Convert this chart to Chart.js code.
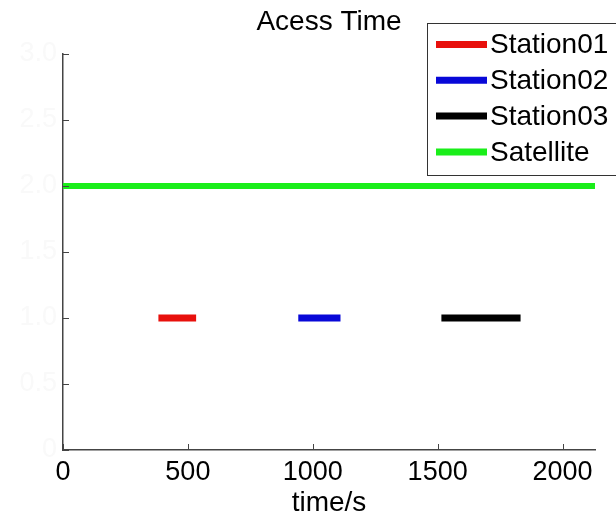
<!DOCTYPE html>
<html>
<head>
<meta charset="utf-8">
<script src="https://cdn.jsdelivr.net/npm/chart.js@4/dist/chart.umd.min.js"></script>
<style>
  html, body { margin: 0; padding: 0; background: #fff; }
  #wrap { width: 616px; height: 515px; }
</style>
</head>
<body>
<div id="wrap"><canvas id="access"></canvas></div>
<script>
const seriesNames = ['Station01', 'Station02', 'Station03', 'Satellite'];
const startTimes = [382, 942, 1515, 0];
const endTimes = [533, 1111, 1832, 2130];
const levels = [1, 1, 1, 2];
const colors = ['#e8100c', '#0808d8', '#000000', '#1aee1a'];
const xTickValues = [0, 500, 1000, 1500, 2000];

const FONT = '"Liberation Sans", Arial, sans-serif';

// MATLAB style ticks point into the plot
const innerTicks = {
  id: 'innerTicks',
  afterDatasetsDraw(chart) {
    const { ctx, chartArea, scales } = chart;
    ctx.save();
    ctx.strokeStyle = '#444';
    ctx.lineWidth = 1;
    scales.x.ticks.forEach(t => {
      const px = Math.round(scales.x.getPixelForValue(t.value)) + 0.5;
      ctx.beginPath();
      ctx.moveTo(px, chartArea.bottom);
      ctx.lineTo(px, chartArea.bottom - 6);
      ctx.stroke();
    });
    scales.y.ticks.forEach(t => {
      const py = Math.round(scales.y.getPixelForValue(t.value)) + 0.5;
      ctx.beginPath();
      ctx.moveTo(chartArea.left, py);
      ctx.lineTo(chartArea.left + 6, py);
      ctx.stroke();
    });
    ctx.restore();
  }
};

const plotTitle = {
  id: 'plotTitle',
  afterDraw(chart) {
    const { ctx, chartArea } = chart;
    ctx.save();
    ctx.font = '28px ' + FONT;
    ctx.fillStyle = '#000';
    ctx.textAlign = 'center';
    ctx.textBaseline = 'middle';
    ctx.fillText('Acess Time', (chartArea.left + chartArea.right) / 2, 22);
    ctx.restore();
  }
};

const boxLegend = {
  id: 'boxLegend',
  afterDraw(chart) {
    const { ctx } = chart;
    const left = 427.5, top = 23.5, right = 630, bottom = 175.5;
    ctx.save();
    ctx.fillStyle = '#fff';
    ctx.fillRect(left, top, right - left, bottom - top);
    ctx.strokeStyle = '#333';
    ctx.lineWidth = 1;
    ctx.strokeRect(left, top, right - left, bottom - top);
    ctx.font = '28px ' + FONT;
    ctx.textBaseline = 'middle';
    chart.data.datasets.forEach((ds, i) => {
      const y = 44.5 + i * 35.8;
      ctx.strokeStyle = ds.borderColor;
      ctx.lineWidth = 7;
      ctx.beginPath();
      ctx.moveTo(436, y);
      ctx.lineTo(487, y);
      ctx.stroke();
      ctx.fillStyle = '#000';
      ctx.fillText(ds.label, 490, y + 1);
    });
    ctx.restore();
  }
};

new Chart(document.getElementById('access'), {
  type: 'line',
  data: {
    datasets: seriesNames.map((name, i) => ({
      label: name,
      data: [{ x: startTimes[i], y: levels[i] }, { x: endTimes[i], y: levels[i] }],
      borderColor: colors[i],
      borderWidth: i === 3 ? 6 : 7,
      borderCapStyle: 'butt',
      pointRadius: 0,
      clip: false
    }))
  },
  options: {
    responsive: true,
    maintainAspectRatio: false,
    animation: false,
    layout: { padding: { top: 54, right: 21, left: 0, bottom: 0 } },
    plugins: {
      legend: { display: false },
      title: { display: false },
      tooltip: { enabled: false }
    },
    scales: {
      x: {
        type: 'linear',
        min: 0,
        max: 2130,
        afterBuildTicks: s => { s.ticks = xTickValues.map(v => ({ value: v })); },
        afterFit: s => { s.height = 65; },
        border: { display: true, color: '#444', width: 1.5 },
        grid: { drawOnChartArea: false, drawTicks: false },
        ticks: {
          color: '#000',
          padding: 6,
          maxRotation: 0,
          callback: v => String(v),
          font: { family: FONT, size: 27 }
        },
        title: {
          display: true,
          text: 'time/s',
          color: '#000',
          padding: { top: 0, bottom: -5 },
          font: { family: FONT, size: 28 }
        }
      },
      y: {
        min: 0,
        max: 3,
        afterFit: s => { s.width = 63; },
        border: { display: true, color: '#444', width: 1.5 },
        grid: { drawOnChartArea: false, drawTicks: false },
        ticks: {
          stepSize: 0.5,
          color: '#f9f9f9',
          padding: 6,
          font: { family: FONT, size: 27 }
        }
      }
    }
  },
  plugins: [innerTicks, plotTitle, boxLegend]
});
</script>
</body>
</html>
